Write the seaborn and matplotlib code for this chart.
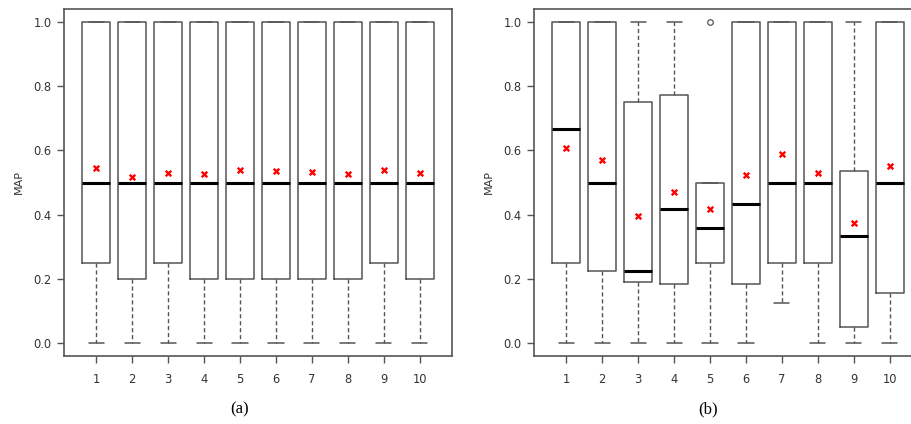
import numpy as np
import matplotlib
matplotlib.use("Agg")
import matplotlib.pyplot as plt
import seaborn as sns

# ---- data (five-number summaries + means) ----
runs = [1, 2, 3, 4, 5, 6, 7, 8, 9, 10]

# panel (a)
a_whislo = [0, 0, 0, 0, 0, 0, 0, 0, 0, 0]
a_q1 = [0.25, 0.2, 0.25, 0.2, 0.2, 0.2, 0.2, 0.2, 0.25, 0.2]
a_med = [0.5, 0.5, 0.5, 0.5, 0.5, 0.5, 0.5, 0.5, 0.5, 0.5]
a_q3 = [1, 1, 1, 1, 1, 1, 1, 1, 1, 1]
a_whishi = [1, 1, 1, 1, 1, 1, 1, 1, 1, 1]
a_mean = [0.544, 0.518, 0.531, 0.526, 0.540, 0.535, 0.533, 0.526, 0.538, 0.531]

# panel (b)
b_whislo = [0, 0, 0, 0, 0, 0, 0.125, 0, 0, 0]
b_q1 = [0.25, 0.225, 0.19, 0.185, 0.25, 0.185, 0.25, 0.25, 0.05, 0.156]
b_med = [0.667, 0.5, 0.225, 0.416, 0.359, 0.434, 0.5, 0.5, 0.333, 0.5]
b_q3 = [1, 1, 0.75, 0.773, 0.5, 1, 1, 1, 0.535, 1]
b_whishi = [1, 1, 1, 1, 0.5, 1, 1, 1, 1, 1]
b_fliers = [[], [], [], [], [1.0], [], [], [], [], []]
b_mean = [0.607, 0.570, 0.396, 0.471, 0.417, 0.522, 0.588, 0.531, 0.374, 0.551]

sns.set_style("white")
plt.rcParams['font.family'] = ['DejaVu Sans']

GREY = '#555555'
TXT = '#333333'


def make_stats(whislo, q1, med, q3, whishi, fliers=None):
    out = []
    for i in range(len(med)):
        out.append({
            "whislo": whislo[i], "q1": q1[i], "med": med[i],
            "q3": q3[i], "whishi": whishi[i],
            "fliers": fliers[i] if fliers else [],
        })
    return out


def draw_panel(ax, stats, means):
    ax.bxp(stats, positions=runs, widths=0.78, capwidths=0.42,
           showfliers=True,
           boxprops=dict(color=GREY, linewidth=1.1),
           whiskerprops=dict(color=GREY, linewidth=1.0, linestyle=(0, (3, 2))),
           capprops=dict(color=GREY, linewidth=1.1),
           medianprops=dict(color='black', linewidth=2.2),
           flierprops=dict(marker='o', markerfacecolor='none',
                           markeredgecolor=GREY, markersize=4, markeredgewidth=0.9))
    sns.scatterplot(x=runs, y=means, marker='x', color='red', s=16,
                    linewidth=1.7, ax=ax, zorder=5)
    ax.set_xlim(0.1, 10.9)
    ax.set_ylim(-0.04, 1.04)
    ax.set_xticks(runs)
    ax.set_xticklabels([str(r) for r in runs])
    ax.set_yticks([0, 0.2, 0.4, 0.6, 0.8, 1.0])
    ax.set_yticklabels(['0.0', '0.2', '0.4', '0.6', '0.8', '1.0'])
    ax.tick_params(axis='both', direction='out', length=5, width=1,
                   color=GREY, labelcolor=TXT, labelsize=8.3,
                   left=True, bottom=True)
    ax.tick_params(axis='x', pad=7)
    ax.tick_params(axis='y', pad=4)
    for sp in ax.spines.values():
        sp.set_visible(True)
        sp.set_color(GREY)
        sp.set_linewidth(1.2)
    ax.set_ylabel("MAP", fontsize=8, color=TXT, labelpad=7)
    ax.set_xlabel("")
    ax.set_facecolor('white')


fig = plt.figure(figsize=(9.11, 4.24), dpi=100)
ax1 = fig.add_axes([64 / 911, 68 / 424, 388 / 911, 347 / 424])
ax2 = fig.add_axes([534 / 911, 68 / 424, 388 / 911, 347 / 424])

draw_panel(ax1, make_stats(a_whislo, a_q1, a_med, a_q3, a_whishi), a_mean)
draw_panel(ax2, make_stats(b_whislo, b_q1, b_med, b_q3, b_whishi, b_fliers), b_mean)

fig.text(240 / 911, 1 - 409 / 424, "(a)", ha='center', va='center',
         fontsize=12, family='Liberation Serif', color='black')
fig.text(708 / 911, 1 - 409 / 424, "(b)", ha='center', va='center',
         fontsize=12, family='Liberation Serif', color='black')

fig.savefig("out.png", dpi=100, facecolor='white')
